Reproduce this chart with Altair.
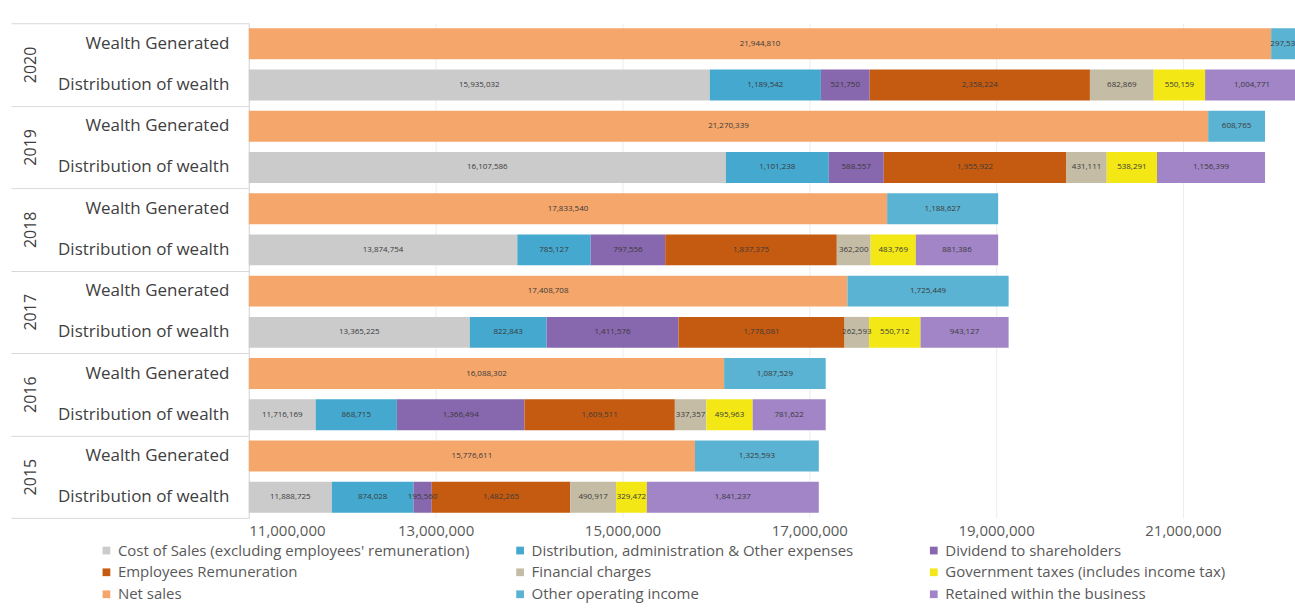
import altair as alt
import pandas as pd

# ---- data ----
years = [2020, 2019, 2018, 2017, 2016, 2015]
categories = ["Wealth Generated", "Distribution of wealth"]

net_sales = [21944810, 21270339, 17833540, 17408708, 16088302, 15776611]
other_income = [297537, 608765, 1188627, 1725449, 1087529, 1325593]

cost_of_sales = [15935032, 16107586, 13874754, 13365225, 11716169, 11888725]
distribution_admin = [1189542, 1101238, 785127, 822843, 868715, 874028]
dividend = [521750, 588557, 797556, 1411576, 1366494, 195560]
employees = [2358224, 1955922, 1837375, 1778081, 1609511, 1482265]
financial = [682869, 431111, 362200, 262593, 337357, 490917]
gov_taxes = [550159, 538291, 483769, 550712, 495963, 329472]
retained = [1004771, 1156399, 881386, 943127, 781622, 1841237]

components = [
    "Cost of Sales (excluding employees' remuneration)",
    "Distribution, administration & Other expenses",
    "Dividend to shareholders",
    "Employees Remuneration",
    "Financial charges",
    "Government taxes (includes income tax)",
    "Net sales",
    "Other operating income",
    "Retained within the business",
]
colors = ["#cbcbcb", "#45a9cf", "#8767ad", "#c55a11", "#c4bca4",
          "#f3e816", "#f5a66a", "#5bb3d3", "#a185c6"]

x_ticks = [11000000, 13000000, 15000000, 17000000, 19000000, 21000000]
x_domain = [11000000, 22200000]

rows = []
for i, yr in enumerate(years):
    for comp, series in [(components[6], net_sales), (components[7], other_income)]:
        rows.append(dict(year=yr, category=categories[0], key=f"{yr}|{categories[0]}",
                         component=comp, value=series[i], order=components.index(comp)))
    for comp, series in [(components[0], cost_of_sales), (components[1], distribution_admin),
                         (components[2], dividend), (components[3], employees),
                         (components[4], financial), (components[5], gov_taxes),
                         (components[8], retained)]:
        rows.append(dict(year=yr, category=categories[1], key=f"{yr}|{categories[1]}",
                         component=comp, value=series[i], order=components.index(comp)))
df = pd.DataFrame(rows)
key_order = [f"{yr}|{c}" for yr in years for c in categories]

FONT = "Open Sans"
PLOT_W = 1047
PLOT_H = 495

xscale = alt.Scale(domain=x_domain, nice=False, zero=False)
yscale = alt.Scale(domain=key_order, paddingInner=0.25, paddingOuter=0.125)

base = alt.Chart(df).transform_stack(
    stack="value", groupby=["key"], as_=["x0", "x1"],
    sort=[alt.SortField("order", order="ascending")]
).transform_calculate(
    mid="(max(datum.x0, 11000000) + datum.x1) / 2"
)

cat_axis = alt.Axis(orient="left", ticks=False, tickSize=0, labelPadding=20,
                    labelFontSize=17, labelFont=FONT, labelColor="#404040",
                    domainColor="#d9d9d9", labelLimit=260, title=None,
                    labelExpr="split(datum.label, '|')[1]")

bars = base.mark_bar(clip=True).encode(
    x=alt.X("x0:Q", scale=xscale, title=None,
            axis=alt.Axis(values=x_ticks, format=",.0f", labelFontSize=15,
                          labelColor="#595959", labelFont=FONT, domain=False,
                          ticks=False, gridColor="#ececec", labelPadding=6)),
    x2="x1:Q",
    y=alt.Y("key:N", scale=yscale, axis=cat_axis, title=None),
    color=alt.Color(
        "component:N",
        scale=alt.Scale(domain=components, range=colors),
        legend=alt.Legend(orient="none", legendX=-150, legendY=520, columns=3,
                          direction="horizontal",
                          title=None, symbolType="square", symbolSize=60,
                          symbolStrokeWidth=0, labelFontSize=15, labelFont=FONT,
                          labelColor="#595959", rowPadding=6, columnPadding=42,
                          gridAlign="all", labelLimit=420),
    ),
)

labels = base.mark_text(fontSize=8, color="#3a3a3a", font=FONT, clip=True).encode(
    x=alt.X("mid:Q", scale=xscale),
    y=alt.Y("key:N", scale=yscale, axis=None),
    text=alt.Text("value:Q", format=",.0f"),
)

year_axis = alt.Axis(orient="left", offset=0, tickBand="extent", tickSize=238,
                     tickColor="#d9d9d9", ticks=True, domain=False, grid=False,
                     labelAngle=-90, labelAlign="center", labelBaseline="middle",
                     labelPadding=-20, labelFontSize=16, labelFont=FONT,
                     labelColor="#404040", title=None)

year_layer = alt.Chart(df).mark_point(opacity=0).encode(
    y=alt.Y("year:O", sort="descending", axis=year_axis,
            scale=alt.Scale(paddingInner=0, paddingOuter=0)),
)

chart = alt.layer(bars, labels, year_layer).resolve_scale(
    y="independent"
).resolve_axis(
    y="independent"
).properties(
    width=PLOT_W, height=PLOT_H,
    padding={"left": 10, "top": 22, "right": 0, "bottom": 0},
    background="white",
).configure_view(stroke=None)

chart.save("out.html", embed_options={"renderer": "svg", "actions": False})
